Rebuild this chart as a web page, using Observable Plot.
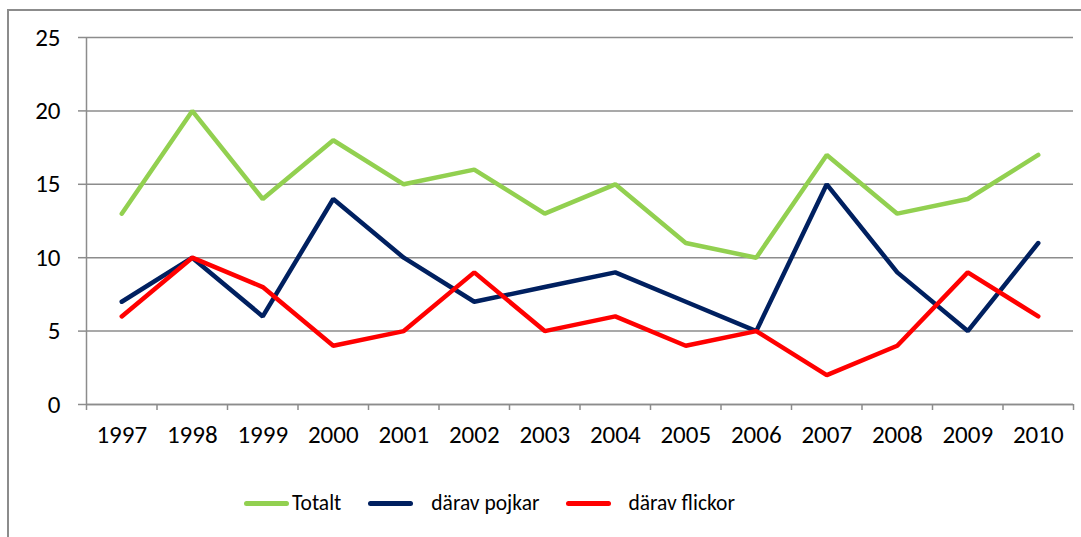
<!DOCTYPE html>
<html>
<head>
<meta charset="utf-8">
<script src="https://cdn.jsdelivr.net/npm/d3@7"></script>
<script src="https://cdn.jsdelivr.net/npm/@observablehq/plot@0.6"></script>
<style>
  html, body { margin: 0; padding: 0; background: #fff; overflow: hidden; }
  body { width: 1081px; height: 537px; position: relative; font-family: Carlito, Calibri, Lato, sans-serif; }
  #chart { position: absolute; left: 0; top: 0; }
  #overlay { position: absolute; left: 0; top: 0; z-index: 5; pointer-events: none; }
  #legend { position: absolute; left: 244px; top: 490px; display: flex; align-items: center; font-size: 21.5px; color: #000; }
  .sw { width: 45px; height: 5px; border-radius: 3px; display: inline-block; }
  .lab { display: inline-block; }
</style>
</head>
<body>
<div id="chart"></div>
<div id="legend"></div>
<svg id="overlay" width="1081" height="537"></svg>
<script>
const years = [1997, 1998, 1999, 2000, 2001, 2002, 2003, 2004, 2005, 2006, 2007, 2008, 2009, 2010];
const totalt = [13, 20, 14, 18, 15, 16, 13, 15, 11, 10, 17, 13, 14, 17];
const pojkar = [7, 10, 6, 14, 10, 7, 8, 9, 7, 5, 15, 9, 5, 11];
const flickor = [6, 10, 8, 4, 5, 9, 5, 6, 4, 5, 2, 4, 9, 6];
const seriesNames = ["Totalt", "därav pojkar", "därav flickor"];
const seriesColors = ["#92D050", "#002060", "#FF0000"];
const yTicks = [0, 5, 10, 15, 20, 25];

const seriesValues = [totalt, pojkar, flickor];
const rows = seriesNames.flatMap((name, s) =>
  years.map((yr, i) => ({ series: name, year: yr, value: seriesValues[s][i] })));
const boundaries = [years[0] - 0.5, ...years.map(y => y + 0.5)];

const chart = Plot.plot({
  width: 1081,
  height: 470,
  marginTop: 37,
  marginLeft: 86,
  marginRight: 8,
  marginBottom: 66,
  style: { fontFamily: "Carlito, Calibri, Lato, sans-serif", fontSize: "25px", color: "#000", background: "transparent", overflow: "visible" },
  x: { domain: [boundaries[0], boundaries[boundaries.length - 1]] },
  y: { domain: [0, 25] },
  color: { domain: seriesNames, range: seriesColors },
  marks: [
    Plot.gridY(yTicks, { stroke: "#8c8c8c", strokeOpacity: 1, strokeWidth: 1.5 }),
    Plot.axisY(yTicks, { tickSize: 8, tickPadding: 18, stroke: "#8c8c8c", strokeWidth: 1.5, fill: "#000", label: null, tickFormat: d => String(d) }),
    Plot.axisX(boundaries, { tickSize: 6, tickFormat: () => "", stroke: "#8c8c8c", strokeWidth: 1.5, label: null }),
    Plot.axisX(years, { tickSize: 0, tickPadding: 21, tickFormat: d => String(d), fill: "#000", label: null }),
    Plot.ruleX([boundaries[0]], { stroke: "#8c8c8c", strokeWidth: 1.5 }),
    Plot.ruleY([0], { stroke: "#8c8c8c", strokeWidth: 1.5 }),
    Plot.line(rows, { x: "year", y: "value", z: "series", stroke: "series", strokeWidth: 4.5, strokeLinejoin: "miter", strokeLinecap: "round" })
  ]
});
document.getElementById("chart").appendChild(chart);

// chart-area border (top and left edges visible in the reference)
d3.select("#overlay").append("path")
  .attr("d", "M8,537V10H1081")
  .attr("fill", "none")
  .attr("stroke", "#8c8c8c")
  .attr("stroke-width", 2);

const legend = document.getElementById("legend");
const gaps = [[3, 27], [18, 27], [17, 0]];
seriesNames.forEach((name, i) => {
  const sw = document.createElement("span");
  sw.className = "sw";
  sw.style.background = seriesColors[i];
  sw.style.marginRight = gaps[i][0] + "px";
  const lab = document.createElement("span");
  lab.className = "lab";
  lab.textContent = name;
  lab.style.marginRight = gaps[i][1] + "px";
  legend.appendChild(sw);
  legend.appendChild(lab);
});
</script>
</body>
</html>
